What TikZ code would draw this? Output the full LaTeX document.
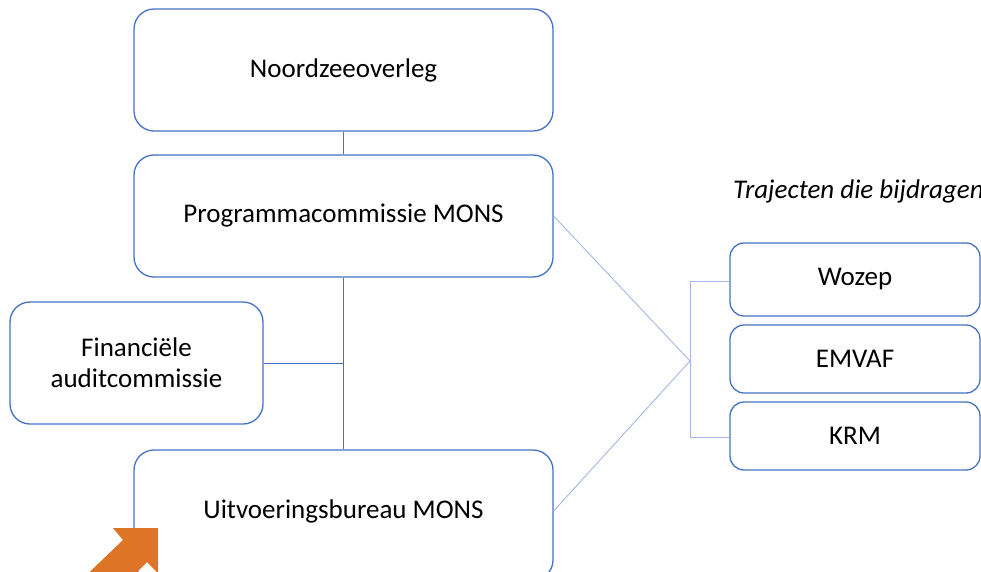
\documentclass[tikz,border=0pt]{standalone}
\usepackage{fontspec}
\setmainfont{Carlito}
\begin{document}
\begin{tikzpicture}[x=1pt,y=-1pt,
  box/.style={draw=boxblue, line width=1.3pt, rounded corners=20pt, fill=white, align=center, font=\fontsize{27}{31}\selectfont, inner sep=0pt},
  conn/.style={draw=boxblue, line width=0.9pt},
  light/.style={draw=lightblue, line width=0.9pt}]
\definecolor{boxblue}{HTML}{4472C4}
\definecolor{lightblue}{HTML}{A3B8E2}
\definecolor{arroworange}{HTML}{DD7426}
\useasboundingbox (0,0) rectangle (981,571);
\clip (0,0) rectangle (981,571);
% nodes
\node[box, minimum width=419pt, minimum height=122pt] (noord) at (343.5,70) {Noordzeeoverleg};
\node[box, minimum width=419pt, minimum height=122pt] (prog) at (343.5,216) {Programmacommissie MONS};
\node[box, minimum width=253pt, minimum height=122pt] (fin) at (136.5,363) {Financiële\\auditcommissie};
\node[box, minimum width=419pt, minimum height=130pt] (uit) at (343.5,515) {};
\node[font=\fontsize{27}{31}\selectfont] (uitlbl) at (343.5,511) {Uitvoeringsbureau MONS};
\node[box, minimum width=250pt, minimum height=73pt, rounded corners=14pt] (wozep) at (855,279.5) {Wozep};
\node[box, minimum width=250pt, minimum height=68pt, rounded corners=14pt] (emvaf) at (855,359) {EMVAF};
\node[box, minimum width=250pt, minimum height=68pt, rounded corners=14pt] (krm) at (855,436) {KRM};
\node[anchor=base west, font=\fontsize{27}{31}\selectfont\itshape, inner sep=0pt] (traj) at (733,198) {Trajecten die bijdragen};
% connector coordinates
\coordinate (brk) at (690,361);
\coordinate (brtop) at (690,281);
\coordinate (brbot) at (690,437);
% connectors
\draw[conn] (noord.south) -- (prog.north);
\draw[conn] (prog.south) -- (uit.north);
\draw[conn] (fin.east) -- (fin.east -| prog.south);
\draw[light] (prog.east) -- (brk);
\draw[light] (uit.east |- uitlbl.center) -- (brk);
\draw[light] (wozep.west |- brtop) -- (brtop) -- (brbot) -- (krm.west |- brbot);
% orange arrow
\fill[arroworange] (158,528) -- (158,573) -- (147,562) -- (100,609) -- (76,585) -- (123,540) -- (113,528) -- cycle;
\end{tikzpicture}
\end{document}
